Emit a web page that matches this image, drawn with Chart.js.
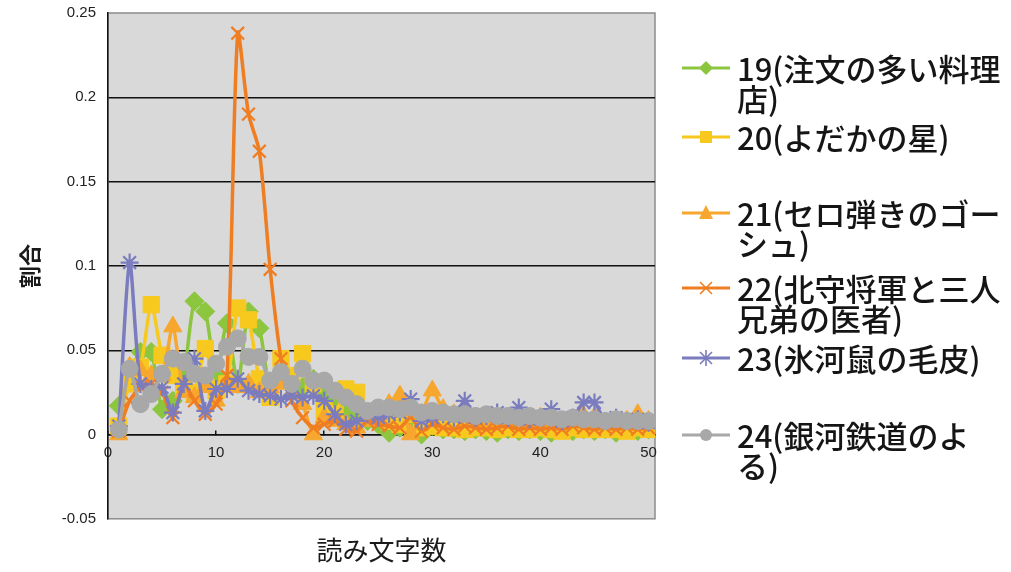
<!DOCTYPE html>
<html>
<head>
<meta charset="utf-8">
<script src="https://cdn.jsdelivr.net/npm/chart.js@4/dist/chart.umd.min.js"></script>
<style>
  html, body { margin: 0; padding: 0; background: #fff; }
  #wrap { position: relative; width: 1011px; height: 572px; }
  #legend { position: absolute; left: 0; top: 0; width: 1011px; height: 572px; pointer-events: none;
    font-family: "Noto Sans CJK JP", "Noto Sans", sans-serif; font-size: 31px; font-weight: 500; color: #151515; }
  .item { position: absolute; left: 682px; }
  .item svg { position: absolute; left: 0; top: 5px; }
  .item .txt { position: absolute; left: 55px; line-height: 30px; white-space: pre; }
</style>
</head>
<body>
<div id="wrap">
  <canvas id="chart" width="1011" height="572"></canvas>
  <div id="legend"></div>
</div>
<script>
// reading length (characters) on the x axis
var lengths = [];
for (var n = 1; n <= 50; n++) lengths.push(n);
var xTickValues = [0, 10, 20, 30, 40, 50];

var names = [
  '19(注文の多い料理\n店)',
  '20(よだかの星)',
  '21(セロ弾きのゴー\nシュ)',
  '22(北守将軍と三人\n兄弟の医者)',
  '23(氷河鼠の毛皮)',
  '24(銀河鉄道のよ\nる)'
];

var s19 = [0.017, 0.036, 0.049, 0.049, 0.015, 0.020, 0.035, 0.079, 0.073, 0.035,
  0.066, 0.030, 0.073, 0.063, 0.028, 0.035, 0.030, 0.028, 0.033, 0.025,
  0.020, 0.015, 0.010, 0.008, 0.006, 0.001, 0.004, 0.006, 0.000, 0.005,
  0.003, 0.003, 0.002, 0.003, 0.002, 0.001, 0.003, 0.002, 0.003, 0.002,
  0.001, 0.003, 0.002, 0.003, 0.002, 0.003, 0.001, 0.003, 0.002, 0.003];
var s20 = [0.005, 0.030, 0.040, 0.077, 0.047, 0.035, 0.028, 0.025, 0.051, 0.026,
  0.030, 0.075, 0.068, 0.033, 0.022, 0.045, 0.035, 0.048, 0.030, 0.014,
  0.012, 0.027, 0.025, 0.012, 0.010, 0.008, 0.006, 0.012, 0.004, 0.005,
  0.004, 0.004, 0.003, 0.004, 0.004, 0.003, 0.004, 0.003, 0.003, 0.004,
  0.003, 0.002, 0.004, 0.003, 0.003, 0.003, 0.003, 0.002, 0.004, 0.003];
var s21 = [0.000, 0.040, 0.038, 0.035, 0.035, 0.064, 0.025, 0.022, 0.028, 0.020,
  0.030, 0.028, 0.030, 0.025, 0.028, 0.030, 0.025, 0.018, 0.000, 0.010,
  0.008, 0.006, 0.004, 0.008, 0.012, 0.018, 0.023, 0.000, 0.012, 0.026,
  0.015, 0.012, 0.016, 0.010, 0.008, 0.009, 0.007, 0.008, 0.006, 0.010,
  0.007, 0.006, 0.008, 0.011, 0.010, 0.006, 0.007, 0.008, 0.012, 0.008];
var s22 = [0.002, 0.020, 0.028, 0.030, 0.025, 0.010, 0.030, 0.020, 0.012, 0.018,
  0.035, 0.238, 0.190, 0.168, 0.098, 0.045, 0.020, 0.010, 0.004, 0.006,
  0.008, 0.003, 0.002, 0.008, 0.006, 0.005, 0.004, 0.010, 0.002, 0.006,
  0.004, 0.003, 0.005, 0.004, 0.003, 0.004, 0.005, 0.003, 0.004, 0.003,
  0.004, 0.003, 0.005, 0.004, 0.003, 0.004, 0.003, 0.004, 0.003, 0.004];
var s23 = [0.005, 0.102, 0.030, 0.027, 0.028, 0.013, 0.030, 0.045, 0.014, 0.027,
  0.027, 0.033, 0.026, 0.024, 0.023, 0.021, 0.023, 0.022, 0.023, 0.020,
  0.012, 0.006, 0.008, 0.012, 0.010, 0.012, 0.013, 0.021, 0.008, 0.010,
  0.012, 0.010, 0.020, 0.010, 0.011, 0.013, 0.010, 0.016, 0.009, 0.010,
  0.015, 0.008, 0.010, 0.019, 0.019, 0.008, 0.010, 0.008, 0.009, 0.007];
var s24 = [0.003, 0.039, 0.018, 0.024, 0.036, 0.045, 0.043, 0.036, 0.035, 0.042,
  0.052, 0.057, 0.046, 0.046, 0.032, 0.037, 0.030, 0.039, 0.032, 0.032,
  0.026, 0.022, 0.018, 0.014, 0.016, 0.016, 0.015, 0.016, 0.013, 0.014,
  0.013, 0.012, 0.012, 0.011, 0.012, 0.011, 0.011, 0.010, 0.011, 0.010,
  0.010, 0.009, 0.010, 0.009, 0.009, 0.008, 0.009, 0.008, 0.008, 0.008];

var series = [s19, s20, s21, s22, s23, s24];
var colors = ['#8cc63f', '#f7c81e', '#f7a62e', '#ef7d22', '#7a7cbe', '#a8a8a8'];
var shapes = ['rectRot', 'rect', 'triangle', 'crossRot', 'star', 'circle'];
var sizes = [9.5, 11.5, 10.5, 9, 9, 8.5];

function points(values) {
  return values.map(function (v, i) { return {x: lengths[i], y: v}; });
}

var datasets = series.map(function (values, i) {
  var hollow = shapes[i] === 'crossRot' || shapes[i] === 'star';
  return {
    label: names[i].replace('\n', ''),
    data: points(values),
    borderColor: colors[i],
    backgroundColor: colors[i],
    borderWidth: 3.5,
    pointStyle: shapes[i],
    pointRadius: sizes[i],
    pointBorderWidth: hollow ? 2.2 : 1,
    pointBackgroundColor: colors[i],
    pointBorderColor: colors[i],
    tension: 0.25,
    order: series.length - 1 - i
  };
});

// gray plot area with a thin frame
var plotBg = {
  id: 'plotBg',
  beforeDraw: function (chart) {
    var ctx = chart.ctx, a = chart.chartArea;
    ctx.save();
    ctx.fillStyle = '#d9d9d9';
    ctx.fillRect(a.left, a.top, a.right - a.left, a.bottom - a.top);
    ctx.strokeStyle = '#8c8c8c';
    ctx.lineWidth = 1.5;
    ctx.strokeRect(a.left, a.top, a.right - a.left, a.bottom - a.top);
    ctx.restore();
  }
};

new Chart(document.getElementById('chart').getContext('2d'), {
  type: 'line',
  data: {datasets: datasets},
  plugins: [plotBg],
  options: {
    responsive: false,
    animation: false,
    layout: {padding: {left: 0, right: 356, top: 13, bottom: 6}},
    plugins: {
      legend: {display: false},
      tooltip: {enabled: false},
      title: {
        display: true,
        position: 'bottom',
        fullSize: false,
        text: '読み文字数',
        color: '#1a1a1a',
        font: {family: '"Noto Sans CJK JP", sans-serif', size: 26, weight: 'normal'},
        padding: {top: 16, bottom: 0}
      }
    },
    scales: {
      x: {
        type: 'linear',
        position: {y: 0},
        min: 0,
        max: 50.6,
        afterBuildTicks: function (scale) {
          scale.ticks = xTickValues.map(function (v) { return {value: v}; });
        },
        afterFit: function (scale) { scale.height = 0; },
        ticks: {autoSkip: false, maxRotation: 0, color: '#222',
          font: {family: '"Liberation Sans", Arial, sans-serif', size: 15}, padding: 14},
        grid: {drawOnChartArea: false, drawTicks: true, tickLength: -5, color: '#111', lineWidth: 1.5},
        border: {color: '#111', width: 1.5}
      },
      y: {
        min: -0.05,
        max: 0.25,
        afterFit: function (scale) { scale.width = 108; },
        ticks: {
          stepSize: 0.05, color: '#222', padding: 3,
          font: {family: '"Liberation Sans", Arial, sans-serif', size: 15},
          callback: function (v) { return String(parseFloat(Number(v).toFixed(2)) || 0); }
        },
        grid: {
          drawTicks: true,
          tickLength: 9,
          tickColor: 'rgba(0,0,0,0)',
          lineWidth: 1.4,
          color: function (c) {
            var v = c.tick ? c.tick.value : 0;
            return (v > 0.24 || v < -0.04) ? 'rgba(0,0,0,0)' : '#111';
          }
        },
        border: {color: '#111', width: 1.5},
        title: {
          display: true,
          text: '割合',
          color: '#1a1a1a',
          font: {family: '"Noto Sans CJK JP", sans-serif', size: 22, weight: 'bold'},
          padding: {top: 16, bottom: 0}
        }
      }
    }
  }
});

// legend: line sample with marker, wrapped label text
var legendTops = [53, 122, 198, 273, 343, 420];
function icon(i) {
  var c = colors[i], m;
  if (shapes[i] === 'rectRot') m = '<polygon points="24,3 31,10 24,17 17,10" fill="' + c + '"/>';
  else if (shapes[i] === 'rect') m = '<rect x="18" y="4" width="12" height="12" fill="' + c + '"/>';
  else if (shapes[i] === 'triangle') m = '<polygon points="24,2 31,16 17,16" fill="' + c + '"/>';
  else if (shapes[i] === 'crossRot') m = '<path d="M18,4 L30,16 M30,4 L18,16" stroke="' + c + '" stroke-width="1.6"/>';
  else if (shapes[i] === 'star') m = '<path d="M18,4 L30,16 M30,4 L18,16 M24,2 L24,18" stroke="' + c + '" stroke-width="1.6"/>';
  else m = '<circle cx="24" cy="10" r="6" fill="' + c + '"/>';
  return '<svg width="48" height="20"><line x1="0" y1="10" x2="48" y2="10" stroke="' + c +
    '" stroke-width="3"/>' + m + '</svg>';
}
var legend = document.getElementById('legend');
names.forEach(function (name, i) {
  var d = document.createElement('div');
  d.className = 'item';
  d.style.top = legendTops[i] + 'px';
  d.innerHTML = icon(i) + '<div class="txt"></div>';
  d.querySelector('.txt').textContent = name;
  legend.appendChild(d);
});
</script>
</body>
</html>
